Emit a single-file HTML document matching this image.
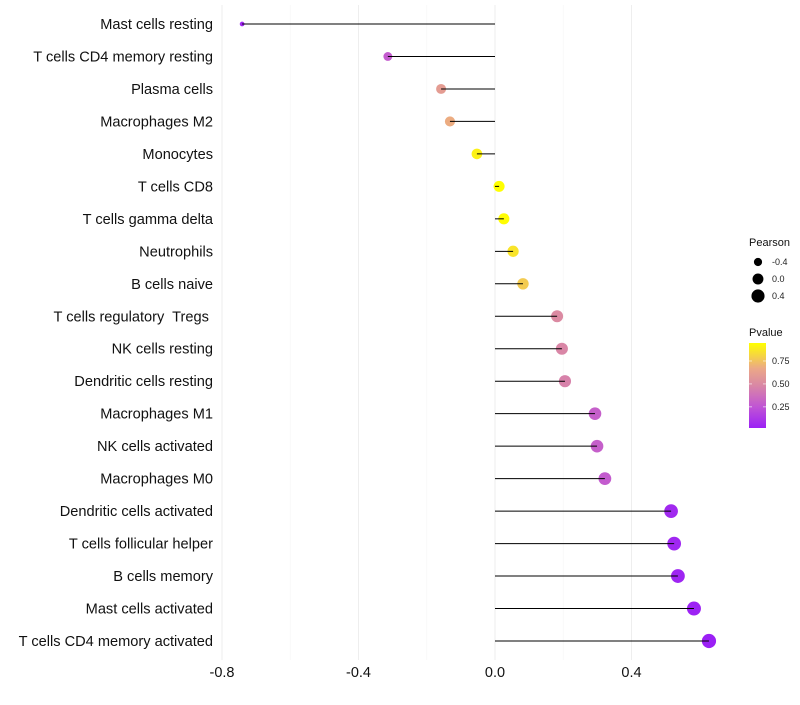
<!DOCTYPE html>
<html><head><meta charset="utf-8"><style>
body{margin:0;background:#fff;font-family:"Liberation Sans",sans-serif}
svg text{font-family:"Liberation Sans",sans-serif;white-space:pre}
</style></head><body>
<svg id="chart" width="800" height="700" xmlns="http://www.w3.org/2000/svg"></svg>
<script>
const categories=["Mast cells resting","T cells CD4 memory resting","Plasma cells","Macrophages M2","Monocytes","T cells CD8","T cells gamma delta","Neutrophils","B cells naive","T cells regulatory  Tregs ","NK cells resting","Dendritic cells resting","Macrophages M1","NK cells activated","Macrophages M0","Dendritic cells activated","T cells follicular helper","B cells memory","Mast cells activated","T cells CD4 memory activated"];
const pearson=[-0.741,-0.314,-0.158,-0.132,-0.053,0.012,0.026,0.053,0.082,0.182,0.196,0.205,0.293,0.299,0.322,0.516,0.525,0.536,0.583,0.627];
const pvalue=[0.05,0.28,0.6,0.68,0.9,0.97,0.94,0.86,0.78,0.5,0.48,0.46,0.3,0.3,0.28,0.06,0.05,0.04,0.03,0.02];
const xTicks=[-0.8,-0.4,0.0,0.4];
const xTickLabels=["-0.8","-0.4","0.0","0.4"];
const sizeLegend=[-0.4,0.0,0.4];
const colorLegend=[0.25,0.5,0.75];

const svg=document.getElementById('chart');
const NS='http://www.w3.org/2000/svg';
function mk(t,a,p){const e=document.createElementNS(NS,t);for(const k in a)e.setAttribute(k,a[k]);(p||svg).appendChild(e);return e;}
const x=v=>495+v*341.25;
const y=i=>24+i*(617/19);
const r=v=>Math.sqrt(Math.max(1,30+32.8*v));
function lerp(a,b,t){return a.map((c,i)=>Math.round(c+(b[i]-c)*t));}
const stops=[[0,[155,32,245]],[0.25,[192,85,212]],[0.5,[217,135,165]],[0.7,[235,168,135]],[1,[255,255,0]]];
function col(p){const t=Math.max(0,Math.min(1,(p-0.02)/(0.946-0.02)));
 for(let i=0;i<stops.length-1;i++){if(t<=stops[i+1][0]){const f=(t-stops[i][0])/(stops[i+1][0]-stops[i][0]);return `rgb(${lerp(stops[i][1],stops[i+1][1],f)})`;}}
 return 'rgb(255,255,0)';}

for(let i=0;i<xTicks.length;i++){
 const g=mk('line',{x1:x(xTicks[i]),x2:x(xTicks[i]),y1:5,y2:660,stroke:'#eeeeee','stroke-width':1});
 
 
 if(i<xTicks.length-1){const m=(xTicks[i]+xTicks[i+1])/2;
 const g2=mk('line',{x1:x(m),x2:x(m),y1:5,y2:660,stroke:'#f6f6f6','stroke-width':0.6});
 
 }
 const t=mk('text',{x:x(xTicks[i]),y:677,'text-anchor':'middle','font-size':14.5,fill:'#111'});
 t.textContent=xTickLabels[i];
 
 
}
for(let i=0;i<categories.length;i++){
 const t=mk('text',{x:213,y:y(i)+5,'text-anchor':'end','font-size':14.6,fill:'#111'});
 t.textContent=categories[i];
 
 
 const c=mk('circle',{cx:x(pearson[i]),cy:y(i),r:r(pearson[i]),fill:col(pvalue[i])});
 
 
 const l=mk('line',{x1:x(0),x2:x(pearson[i]),y1:y(i),y2:y(i),stroke:'#000','stroke-width':1});
 
 
}
let t=mk('text',{x:749,y:246,'font-size':11,fill:'#111'});t.textContent='Pearson';


sizeLegend.forEach((v,i)=>{
 const c=mk('circle',{cx:758,cy:262+i*17,r:r(v),fill:'#000'});
 
 
 const l=mk('text',{x:772,y:265+i*17,'font-size':9,fill:'#222'});l.textContent=v===0?'0.0':String(v);
 
 
});
t=mk('text',{x:749,y:336,'font-size':11,fill:'#111'});t.textContent='Pvalue';


const defs=mk('defs',{});
const lg=mk('linearGradient',{id:'pg',x1:0,y1:1,x2:0,y2:0},defs);
[0,0.125,0.25,0.375,0.5,0.6,0.7,0.85,1].forEach(s=>mk('stop',{offset:s,'stop-color':col(0.02+s*0.926)},lg));
const bar=mk('rect',{x:749,y:343,width:17,height:85,fill:'url(#pg)'});


colorLegend.forEach(v=>{
 const yy=428-(v-0.02)/(0.946-0.02)*85;
 mk('line',{x1:749,x2:752,y1:yy,y2:yy,stroke:'#fff','stroke-width':0.6});
 mk('line',{x1:763,x2:766,y1:yy,y2:yy,stroke:'#fff','stroke-width':0.6});
 const l=mk('text',{x:772,y:yy+3,'font-size':9,fill:'#222'});l.textContent=v.toFixed(2);
 
 
});
</script>
</body></html>
